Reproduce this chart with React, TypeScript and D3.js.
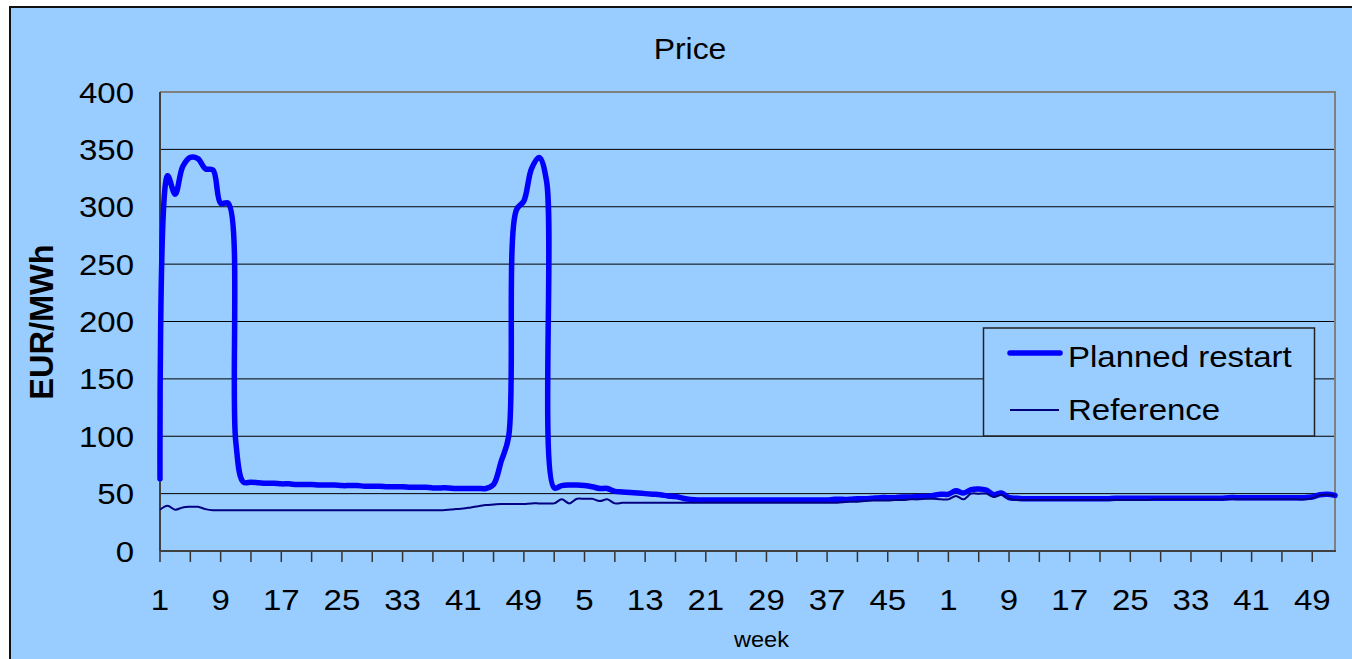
import React from 'react';
import * as d3 from 'd3';

// ---- data ----
const weekLabels: number[] = d3.range(1, 53); // weeks 1..52
const yearCount = 3;
const categories: number[] = d3.range(yearCount).flatMap(() => weekLabels);

const yTicks = [0, 50, 100, 150, 200, 250, 300, 350, 400];
const seriesNames = ['Planned restart', 'Reference'];

const plannedRestart: number[] = [
  // year 1
  63, 327, 311, 335, 343, 342, 333, 332, 303, 303,
  95, 60, 60, 59.5, 59, 59, 58.5, 58.5, 58, 58,
  58, 57.5, 57.5, 57.5, 57, 57, 57, 56.5, 56.5, 56.5,
  56, 56, 56, 55.5, 55.5, 55.5, 55, 55, 55, 54.5,
  54.5, 54.5, 54.5, 54.5, 58, 78, 100, 297, 305, 333,
  343, 322,
  // year 2
  55, 57, 57.5, 57.5, 57, 56, 54.5, 54.5, 52, 51.5,
  51, 50.5, 50, 49.5, 49, 48, 47.5, 46, 45, 44.5,
  44.5, 44.5, 44.5, 44.5, 44.5, 44.5, 44.5, 44.5, 44.5, 44.5,
  44.5, 44.5, 44.5, 44.5, 44.5, 44.5, 44.5, 45, 45, 45,
  45.5, 45.5, 46, 46.5, 46.5, 46.5, 47, 47, 47.5, 47.5,
  48.5, 49.5,
  // year 3
  49.5, 52.5, 50.5, 53.5, 54, 53, 49, 50.5, 46.5, 46,
  45.5, 45.5, 45.5, 45.5, 45.5, 45.5, 45.5, 45.5, 45.5, 45.5,
  45.5, 45.5, 46, 46, 46, 46, 46, 46, 46, 46,
  46, 46, 46, 46, 46, 46, 46, 46.5, 46.5, 46.5,
  46.5, 46.5, 46.5, 46.5, 46.5, 46.5, 46.5, 46.5, 47, 49,
  49.5, 48.5,
];

const reference: number[] = [
  // year 1
  36, 39.5, 36, 38, 38.5, 38.5, 36.5, 35.5, 35.5, 35.5,
  35.5, 35.5, 35.5, 35.5, 35.5, 35.5, 35.5, 35.5, 35.5, 35.5,
  35.5, 35.5, 35.5, 35.5, 35.5, 35.5, 35.5, 35.5, 35.5, 35.5,
  35.5, 35.5, 35.5, 35.5, 35.5, 35.5, 35.5, 35.5, 36, 36.5,
  37, 38, 39, 40, 40.5, 41, 41, 41, 41, 41.5,
  41.5, 41.5,
  // year 2
  41.5, 45, 41.5, 45.5, 45.5, 45.5, 43.5, 45, 41.5, 42,
  42, 42, 42, 42, 42, 42, 42, 42, 42, 42,
  42, 42, 42, 42, 42, 42, 42, 42, 42, 42,
  42, 42, 42, 42, 42, 42, 42, 42, 42.5, 43,
  43, 43.5, 44, 44, 44, 44.5, 44.5, 45, 45, 45.5,
  45.5, 45,
  // year 3
  45, 48, 45, 50, 50, 50, 47, 49, 45.5, 44.5,
  44.5, 44.5, 44.5, 44.5, 44.5, 44.5, 44.5, 44.5, 44.5, 44.5,
  44.5, 44.5, 44.5, 44.5, 44.5, 44.5, 44.5, 45, 45, 45,
  45, 45, 45, 45, 45, 45, 45, 45, 45, 45,
  45, 45, 45, 45, 45, 45, 45, 45, 46, 48.5,
  49, 48,
];

const FONT = '"Liberation Sans", Arial, Helvetica, sans-serif';
const SX = 1.1; // horizontal glyph stretch seen in the reference

function T(props: {
  x: number;
  y: number;
  size: number;
  anchor?: 'start' | 'middle' | 'end';
  sx?: number;
  children: React.ReactNode;
}) {
  const { x, y, size, anchor = 'start', sx = SX, children } = props;
  return (
    <text
      transform={`translate(${x},${y}) scale(${sx},1)`}
      textAnchor={anchor}
      fontSize={size}
      fill="#000"
    >
      {children}
    </text>
  );
}

export default function App() {
  const W = 1352;
  const H = 659;
  const left = 160;
  const right = 1335;
  const top = 92;
  const bottom = 551;

  const x = d3.scaleLinear().domain([0, categories.length - 1]).range([left, right]);
  const y = d3.scaleLinear().domain([0, 400]).range([bottom, top]);

  const line = d3
    .line<number>()
    .x((_, i) => x(i))
    .y((d) => y(d))
    .curve(d3.curveCatmullRom.alpha(0.5));

  const minorTicks = d3.range(0, categories.length, 4);
  const labelTicks = d3.range(0, categories.length, 8);

  return (
    <svg
      width={W}
      height={H}
      style={{ position: 'absolute', left: 0, top: 0, display: 'block' }}
      fontFamily={FONT}
    >
      <rect x={0} y={0} width={W} height={H} fill="#ffffff" />
      <rect x={10} y={7} width={W + 20} height={H + 20} fill="#99CCFF" stroke="#111" strokeWidth={2} />

      {/* title */}
      <T x={690} y={59} size={29} anchor="middle">
        Price
      </T>

      {/* gridlines */}
      {yTicks
        .filter((t) => t > 0 && t < 400)
        .map((t) => (
          <line key={'g' + t} x1={left} x2={right} y1={y(t)} y2={y(t)} stroke="#000" strokeWidth={1} />
        ))}

      {/* plot border top/right */}
      <path d={`M${left},${y(400)}H${right}V${y(0)}`} fill="none" stroke="#808080" strokeWidth={2} />

      {/* y labels */}
      {yTicks.map((t) => (
        <T key={'yl' + t} x={134} y={y(t) + 10.5} size={30} anchor="end">
          {t}
        </T>
      ))}

      {/* y axis title */}
      <text
        transform={`translate(53,322) rotate(-90)`}
        textAnchor="middle"
        fontSize={32.5}
        fontWeight="bold"
        fill="#000"
      >
        EUR/MWh
      </text>

      {/* x ticks */}
      {minorTicks.map((i) => (
        <line key={'xt' + i} x1={x(i)} x2={x(i)} y1={bottom} y2={bottom + 11} stroke="#333" strokeWidth={1.5} />
      ))}
      {labelTicks.map((i) => (
        <T key={'xl' + i} x={x(i)} y={610} size={30} anchor="middle">
          {categories[i]}
        </T>
      ))}
      <T x={761.5} y={647} size={22} anchor="middle" sx={1.07}>
        week
      </T>

      {/* axes */}
      <line x1={left} x2={left} y1={top} y2={bottom} stroke="#404040" strokeWidth={2} />
      <line x1={left} x2={right + 1} y1={bottom} y2={bottom} stroke="#404040" strokeWidth={2} />

      {/* series */}
      <path
        d={line(plannedRestart) || ''}
        fill="none"
        stroke="#0000FF"
        strokeWidth={5.5}
        strokeLinejoin="round"
        strokeLinecap="round"
      />
      <path d={line(reference) || ''} fill="none" stroke="#000080" strokeWidth={2} strokeLinejoin="round" />

      {/* legend */}
      <g>
        <rect x={983.5} y={328} width={331} height={108} fill="#99CCFF" stroke="#222" strokeWidth={1.5} />
        <line x1={1010} x2={1060} y1={353} y2={353} stroke="#0000FF" strokeWidth={5.5} strokeLinecap="round" />
        <T x={1068} y={366.5} size={30}>
          {seriesNames[0]}
        </T>
        <line x1={1010} x2={1059} y1={410} y2={410} stroke="#000080" strokeWidth={2} />
        <T x={1068} y={420} size={30}>
          {seriesNames[1]}
        </T>
      </g>
    </svg>
  );
}
